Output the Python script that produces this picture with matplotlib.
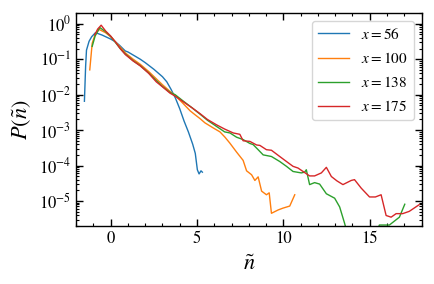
import matplotlib
matplotlib.use("Agg")
import matplotlib.pyplot as plt
from matplotlib.ticker import LogLocator, MultipleLocator, NullFormatter

plt.rcParams['font.family'] = ['STIXGeneral', 'DejaVu Serif']
plt.rcParams['mathtext.fontset'] = 'stix'

# curves: n-tilde and P(n-tilde)
labels = [r'$x = 56$', r'$x = 100$', r'$x = 138$', r'$x = 175$']

n_56 = [-1.52, -1.45, -1.4, -1.25, -1.1, -0.88, -0.5, 0.0, 0.27, 0.5, 0.85, 1.0, 1.5, 1.71,
        2.0, 2.5, 3.0, 3.25, 3.5, 3.75, 4.0, 4.25, 4.5, 4.75, 4.9, 5.02, 5.12, 5.23, 5.31]
p_56 = [6.5e-3, 6.3e-2, 1.8e-1, 3.2e-1, 4.3e-1, 5.6e-1, 4.8e-1, 3.7e-1, 3.1e-1, 2.5e-1,
        1.7e-1, 1.6e-1, 1.15e-1, 1.0e-1, 8.0e-2, 5.2e-2, 3.2e-2, 2.3e-2, 1.4e-2, 8.0e-3,
        4.0e-3, 1.8e-3, 8.9e-4, 4.0e-4, 2.2e-4, 7.6e-5, 5.8e-5, 7.1e-5, 6.5e-5]

n_100 = [-1.21, -1.07, -0.9, -0.67, -0.3, 0.0, 0.27, 0.55, 0.85, 1.3, 1.71, 2.2, 2.64, 3.0,
         3.44, 3.73, 4.2, 4.6, 4.89, 5.18, 5.46, 5.94, 6.33, 6.62, 6.9, 7.29, 7.67, 7.87,
         8.16, 8.35, 8.54, 8.74, 9.02, 9.18, 9.31, 9.7, 9.98, 10.37, 10.66]
p_100 = [5.0e-2, 2.8e-1, 5.0e-1, 6.9e-1, 5.6e-1, 4.3e-1, 3.1e-1, 2.2e-1, 1.5e-1, 1.0e-1,
         7.2e-2, 4.5e-2, 2.8e-2, 1.9e-2, 1.23e-2, 9.5e-3, 5.6e-3, 3.5e-3, 2.7e-3, 2.1e-3,
         1.6e-3, 1.15e-3, 8.9e-4, 6.3e-4, 4.3e-4, 2.4e-4, 1.4e-4, 7.1e-5, 5.5e-5, 3.8e-5,
         4.8e-5, 1.9e-5, 1.5e-5, 1.7e-5, 4.5e-6, 5.6e-6, 6.3e-6, 7.2e-6, 1.5e-5]

n_138 = [-1.07, -0.9, -0.63, -0.3, 0.0, 0.27, 0.55, 0.85, 1.3, 1.71, 2.2, 2.64, 3.0, 3.44,
         3.73, 4.2, 4.7, 5.18, 5.6, 6.14, 6.6, 6.91, 7.29, 7.67, 8.06, 8.25, 8.54, 8.83,
         9.31, 9.79, 10.18, 10.56, 11.04, 11.23, 11.33, 11.52, 11.81, 12.1, 12.49, 12.97,
         13.26, 13.54, 13.75, 15.3, 15.56, 16.14, 16.72, 17.03]
p_138 = [2.3e-1, 4.5e-1, 7.8e-1, 6.0e-1, 4.4e-1, 3.0e-1, 2.0e-1, 1.4e-1, 9.1e-2, 6.6e-2,
         4.1e-2, 2.5e-2, 1.7e-2, 1.15e-2, 1.0e-2, 6.6e-3, 4.3e-3, 2.8e-3, 1.9e-3, 1.26e-3,
         8.9e-4, 8.3e-4, 6.3e-4, 5.4e-4, 4.2e-4, 3.9e-4, 2.8e-4, 2.0e-4, 1.8e-4, 1.3e-4,
         9.5e-5, 6.8e-5, 6.2e-5, 6.5e-5, 7.6e-5, 2.9e-5, 3.3e-5, 3.0e-5, 1.6e-5, 1.2e-5,
         6.8e-6, 2.4e-6, 1.0e-6, 1.0e-6, 2.1e-6, 2.1e-6, 3.5e-6, 8.1e-6]

n_175 = [-0.92, -0.75, -0.55, -0.3, 0.0, 0.27, 0.55, 0.85, 1.3, 1.71, 2.2, 2.64, 3.0, 3.44,
         3.73, 4.2, 4.7, 5.18, 5.6, 6.14, 6.6, 7.1, 7.48, 7.67, 8.06, 8.45, 8.64, 9.02, 9.31,
         9.79, 10.18, 10.56, 10.85, 11.14, 11.52, 11.81, 12.2, 12.49, 12.78, 13.1, 13.45,
         13.93, 14.12, 14.51, 14.99, 15.33, 15.66, 15.95, 16.24, 16.53, 16.91, 17.29, 17.87]
p_175 = [4.9e-1, 7.1e-1, 9.1e-1, 6.3e-1, 4.5e-1, 3.1e-1, 2.0e-1, 1.35e-1, 8.9e-2, 6.5e-2,
         4.0e-2, 2.3e-2, 1.66e-2, 1.1e-2, 9.1e-3, 6.3e-3, 4.3e-3, 2.9e-3, 2.0e-3, 1.4e-3,
         1.07e-3, 8.3e-4, 7.6e-4, 5.0e-4, 4.8e-4, 3.8e-4, 3.7e-4, 2.8e-4, 2.7e-4, 1.8e-4,
         1.3e-4, 9.5e-5, 8.5e-5, 6.8e-5, 5.1e-5, 5.1e-5, 6.2e-5, 8.9e-5, 4.9e-5, 3.7e-5,
         2.9e-5, 3.8e-5, 4.0e-5, 2.3e-5, 1.3e-5, 1.3e-5, 1.5e-5, 3.9e-6, 3.5e-6, 4.4e-6,
         4.4e-6, 5.1e-6, 7.9e-6]

series_n = [n_56, n_100, n_138, n_175]
series_p = [p_56, p_100, p_138, p_175]

fig = plt.figure(figsize=(4.35, 2.84), dpi=100)
ax = fig.add_axes([0.175, 0.205, 0.794, 0.749])

for n, p, lab in zip(series_n, series_p, labels):
    ax.plot(n, p, lw=1.0, label=lab)

ax.set_yscale('log')
ax.set_xlim(-2, 18)
ax.set_ylim(2e-6, 2)
ax.xaxis.set_major_locator(MultipleLocator(5))
ax.xaxis.set_minor_locator(MultipleLocator(1))
ax.yaxis.set_major_locator(LogLocator(base=10, numticks=20))
ax.yaxis.set_minor_locator(LogLocator(base=10, subs=range(2, 10), numticks=20))
ax.yaxis.set_minor_formatter(NullFormatter())

ax.tick_params(which='both', direction='in', top=True, right=True, labelsize=12)
ax.tick_params(which='major', length=5, width=1.0)
ax.tick_params(which='minor', length=2.5, width=0.8)
for s in ax.spines.values():
    s.set_linewidth(1.0)

ax.set_xlabel(r'$\tilde{n}$', fontsize=16, labelpad=6)
ax.set_ylabel(r'$P(\tilde{n})$', fontsize=16, labelpad=4)

ax.legend(loc='upper right', fontsize=11, handlelength=2.0, labelspacing=0.6)

fig.savefig('out.png', dpi=100)
